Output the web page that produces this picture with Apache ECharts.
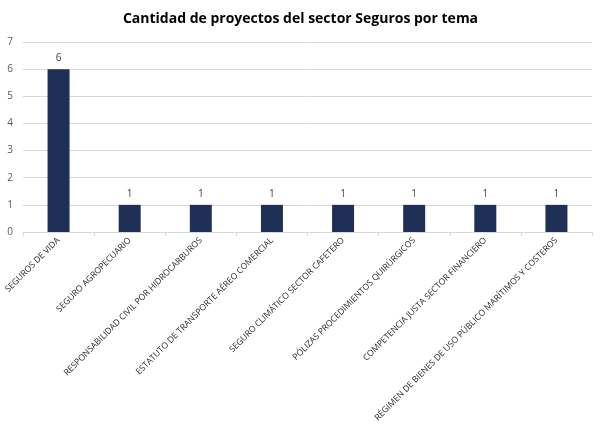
<!DOCTYPE html>
<html><head><meta charset="utf-8">
<script src="https://cdn.jsdelivr.net/npm/echarts@6/dist/echarts.min.js"></script>
<style>html,body{margin:0;padding:0;background:#fff}#c{width:601px;height:426px}</style>
</head><body><div id="c"></div>
<script>
const titleText = 'Cantidad de proyectos del sector Seguros por tema';
const categories = ['SEGUROS DE VIDA','SEGURO AGROPECUARIO','RESPONSABILIDAD CIVIL POR HIDROCARBUROS','ESTATUTO DE TRANSPORTE AÉREO COMERCIAL','SEGURO CLIMÁTICO SECTOR CAFETERO','PÓLIZAS PROCEDIMIENTOS QUIRÚRGICOS','COMPETENCIA JUSTA SECTOR FINANCIERO','RÉGIMEN DE BIENES DE USO PÚBLICO MARÍTIMOS Y COSTEROS'];
const values = [6,1,1,1,1,1,1,1];
const chart = echarts.init(document.getElementById('c'));
chart.setOption({
  animation:false,
  title:{text:titleText,left:'center',top:7,textStyle:{fontFamily:'Open Sans',fontSize:14,fontWeight:'bold',color:'#000'}},
  grid:{left:23,right:9,top:42,height:190,outerBoundsMode:'none',containLabel:false},
  xAxis:{type:'category',data:categories,
    axisLine:{lineStyle:{color:'#d9d9d9'}},
    axisTick:{show:true,lineStyle:{color:'#d9d9d9'},length:4},
    axisLabel:{rotate:45,interval:0,fontFamily:'Open Sans',fontSize:8.6,color:'#262626',margin:7}},
  yAxis:{type:'value',min:0,max:7,interval:1,
    axisLabel:{fontFamily:'Open Sans',fontSize:10,color:'#595959',margin:10},
    splitLine:{lineStyle:{color:'#d9d9d9'}}},
  series:[{type:'bar',data:values,barWidth:22,itemStyle:{color:'#1F3056'},
    label:{show:true,position:'top',distance:6,fontFamily:'Open Sans',fontSize:10,color:'#404040'}}]
});
</script></body></html>
